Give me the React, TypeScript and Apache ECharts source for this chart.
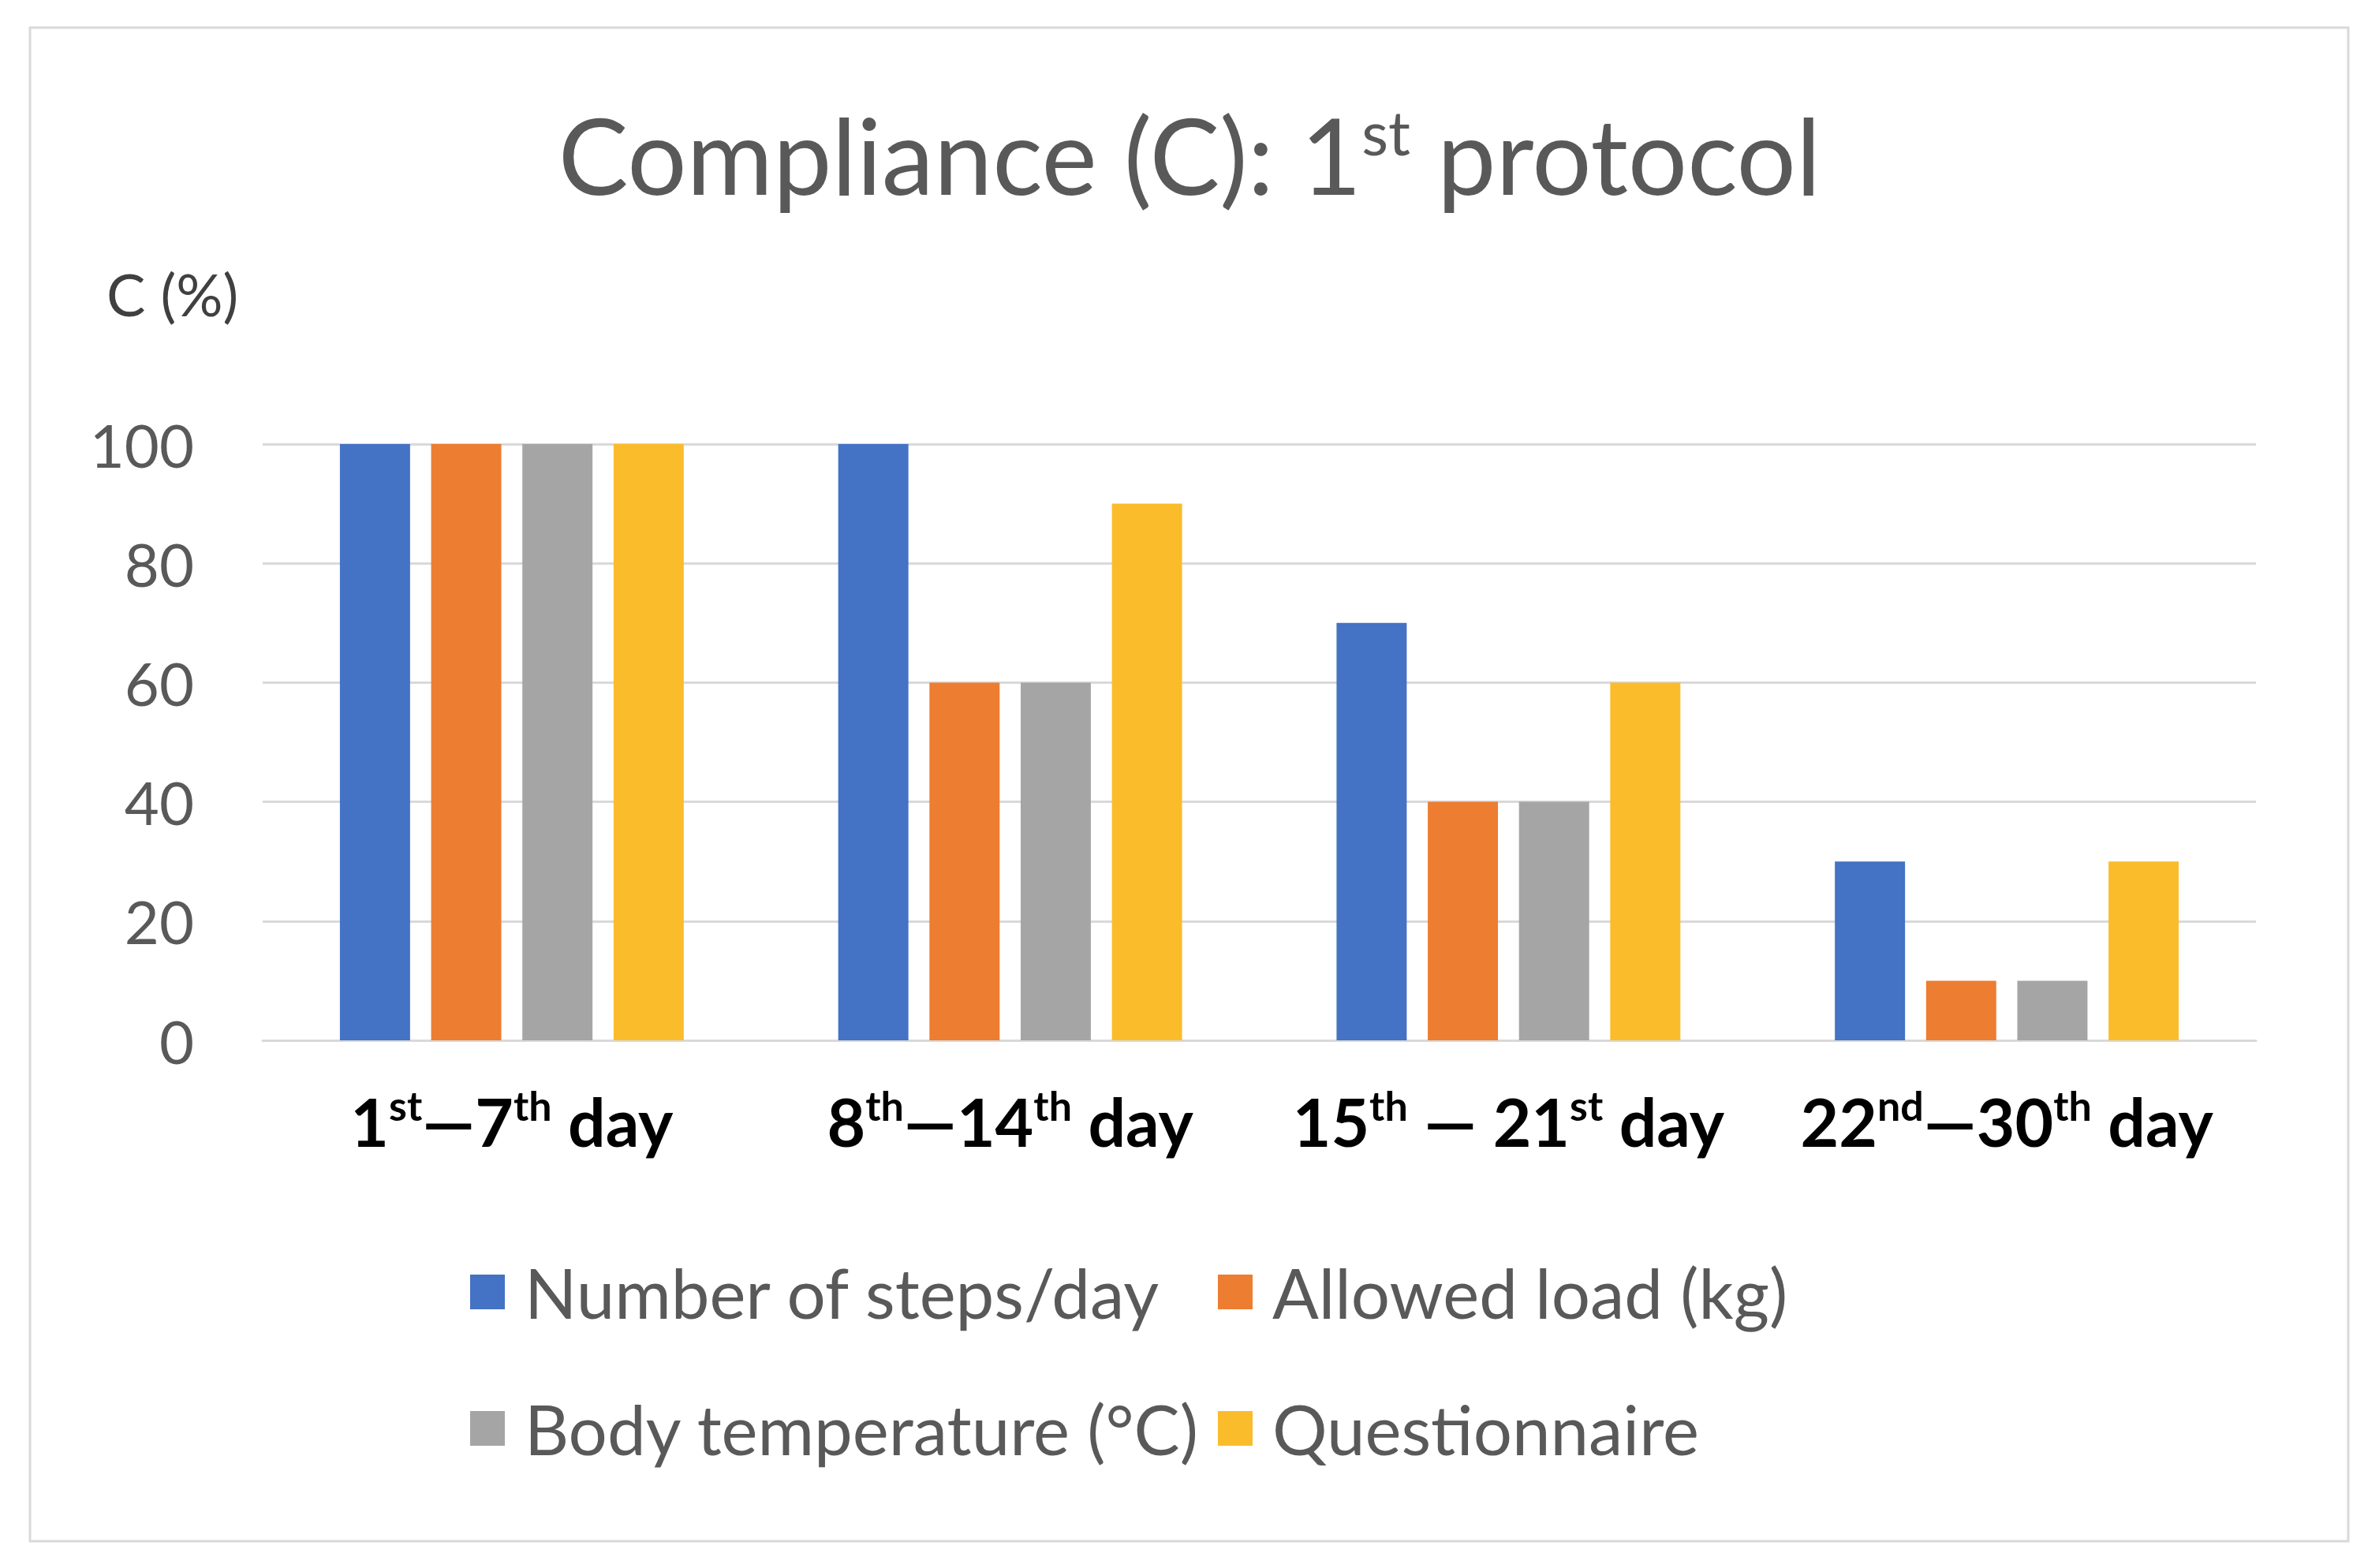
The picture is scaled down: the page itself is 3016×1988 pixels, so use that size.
import React, { useEffect, useRef } from "react";
import * as echarts from "echarts";

const categories = ["1st—7th day", "8th—14th day", "15th — 21st day", "22nd—30th day"];
const categoryLabels = [
  "1{sup|st}—7{sup|th} day",
  "8{sup|th}—14{sup|th} day",
  "15{sup|th} — 21{sup|st} day",
  "22{sup|nd}—30{sup|th} day",
];
const seriesNames = [
  "Number of steps/day",
  "Allowed load (kg)",
  "Body temperature (°C)",
  "Questionnaire",
];
const stepsValues = [100, 100, 70, 30];
const loadValues = [100, 60, 40, 10];
const tempValues = [100, 60, 40, 10];
const questValues = [100, 90, 60, 30];
const yTicks = { min: 0, max: 100, interval: 20 };
const colors = ["#4472C4", "#ED7D31", "#A5A5A5", "#FBBC2C"];

const FONT = "Lato, 'Noto Sans', sans-serif";

export default function App() {
  const ref = useRef<HTMLDivElement>(null);
  useEffect(() => {
    document.body.style.margin = "0";
    const chart = echarts.init(ref.current!, null, { renderer: "svg" });
    const values = [stepsValues, loadValues, tempValues, questValues];
    const legendPos = [
      { left: 596, top: 1588 },
      { left: 1544, top: 1588 },
      { left: 596, top: 1761 },
      { left: 1544, top: 1761 },
    ];
    chart.setOption({
      animation: false,
      backgroundColor: "#ffffff",
      textStyle: { fontFamily: FONT },
      title: {
        text: "Compliance (C): 1{sup|st} protocol",
        left: "center",
        top: 128,
        padding: 0,
        textStyle: {
          fontFamily: FONT,
          fontSize: 133,
          fontWeight: "normal",
          color: "#595959",
          lineHeight: 134,
          rich: {
            sup: {
              fontFamily: FONT,
              fontSize: 78,
              color: "#595959",
              verticalAlign: "top",
              lineHeight: 100,
            },
          },
        },
      },
      graphic: [
        {
          type: "rect",
          shape: { x: 38, y: 35, width: 2939, height: 1919 },
          style: { fill: "none", stroke: "#d9d9d9", lineWidth: 3 },
          silent: true,
        },
        {
          type: "text",
          left: 135,
          top: 335,
          style: {
            text: "C (%)",
            fontFamily: FONT,
            fontSize: 74,
            fill: "#404040",
          },
        },
      ],
      legend: seriesNames.map((n, i) => ({
        data: [n],
        left: legendPos[i].left,
        top: legendPos[i].top,
        icon: "rect",
        itemWidth: 44,
        itemHeight: 44,
        padding: 0,
        textStyle: {
          fontFamily: FONT,
          fontSize: 87,
          color: "#595959",
          lineHeight: 100,
          padding: [0, 0, 0, 20],
        },
      })),
      grid: { left: 333, right: 156, top: 563, bottom: 669, containLabel: false },
      xAxis: {
        type: "category",
        data: categories,
        axisLine: { show: true, lineStyle: { color: "#d9d9d9", width: 3 } },
        axisTick: { show: false },
        axisLabel: {
          interval: 0,
          margin: 56,
          formatter: (_v: string, i: number) => categoryLabels[i],
          fontFamily: FONT,
          fontSize: 84,
          fontWeight: "bold",
          color: "#000000",
          lineHeight: 92,
          rich: {
            sup: {
              fontFamily: FONT,
              fontSize: 52,
              fontWeight: "bold",
              color: "#000000",
              verticalAlign: "top",
              lineHeight: 66,
            },
          },
        },
      },
      yAxis: {
        type: "value",
        min: yTicks.min,
        max: yTicks.max,
        interval: yTicks.interval,
        axisLine: { show: false },
        axisTick: { show: false },
        splitLine: { lineStyle: { color: "#d9d9d9", width: 3 } },
        axisLabel: {
          margin: 87,
          fontFamily: FONT,
          fontSize: 76,
          color: "#595959",
        },
      },
      series: seriesNames.map((n, i) => ({
        name: n,
        type: "bar",
        data: values[i],
        barGap: "30%",
        barCategoryGap: "31%",
        itemStyle: { color: colors[i] },
      })),
    });
    return () => chart.dispose();
  }, []);
  return (
    <div
      ref={ref}
      style={{ position: "absolute", left: 0, top: 0, width: 3016, height: 1988 }}
    />
  );
}
